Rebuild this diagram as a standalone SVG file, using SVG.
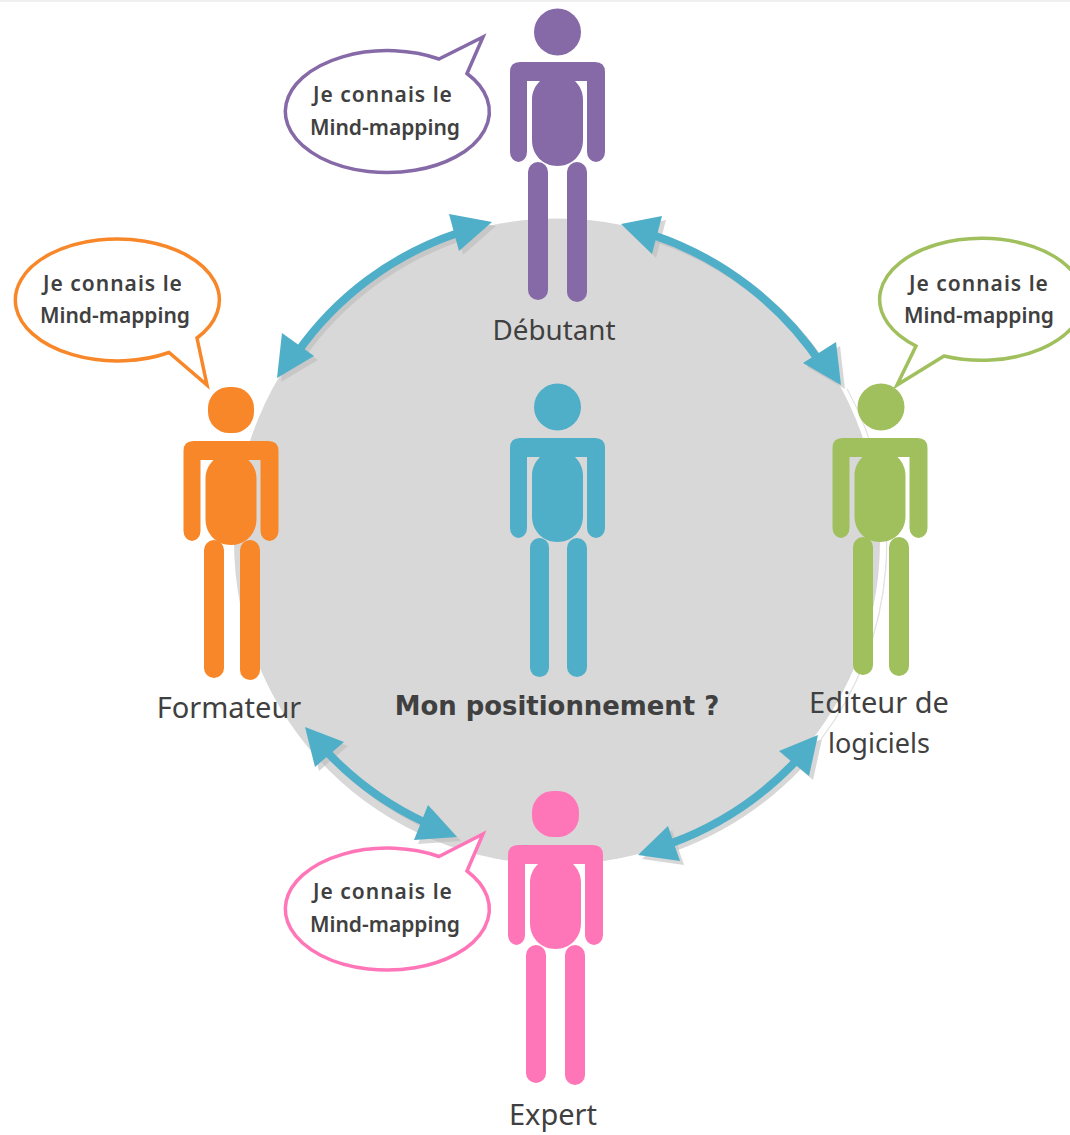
<svg xmlns="http://www.w3.org/2000/svg" width="1070" height="1135" viewBox="0 0 1070 1135">
<style>
.lbl{font-family:"Noto Sans","Open Sans",sans-serif;font-size:29px;fill:#404040;text-anchor:middle}
.say{font-family:"Noto Sans","Open Sans",sans-serif;font-size:21px;font-weight:600;fill:#404040;text-anchor:middle}
.sp{letter-spacing:1px}
.title{font-family:"DejaVu Sans",sans-serif;font-size:25.900px;font-weight:700;fill:#404040;text-anchor:middle}
.bub{fill:#fff;stroke-width:3.500;stroke-linejoin:miter}
.stem{fill:none;stroke:#4FAEC8;stroke-width:8}
.stem-s{fill:none;stroke:#bdbdbd;stroke-width:7;opacity:.6}
.head{fill:#4FAEC8}
.head-s{fill:#bdbdbd;opacity:.6}
.purple{fill:#8669A7}.blue{fill:#4FAEC8}.orange{fill:#F88729}.green{fill:#A0BF5D}.pink{fill:#FF76B8}
</style>
<defs>
<path id="upper" d="M520,62H595Q605,62 605,72V152A9,10 0 0 1 587,152V81H575C580,86 583,92 583,100V140C583,155 572,166 557.500,166C543,166 532,155 532,140V100C532,92 535,86 540,81H527V152A8.500,10 0 0 1 510,152V72Q510,62 520,62Z"/>
</defs>
<rect width="1070" height="2" fill="#efefef"/>
<g id="background">
<circle cx="557" cy="541.500" r="323" fill="#d8d8d8"/>
<path d="M843,387A323,323 0 0 1 817,737" fill="none" stroke="#e2e2e2" stroke-width="1.500" transform="translate(4,2)"/>
<path d="M842,387A323,323 0 0 1 817,737" fill="none" stroke="#fff" stroke-width="3.500" transform="translate(2,1)"/>
<path d="M640,856C620,860 612,862 603,863" fill="none" stroke="#fff" stroke-width="3"/>
</g>
<g id="connectors">
<g transform="translate(4,4)">
<path class="stem-s" d="M297,353A320,320 0 0 1 458,233"/>
<path class="head-s" d="M492,222L449,214L459,251Z"/>
<path class="head-s" d="M277,378L282,333L314,356Z"/>
<path class="stem-s" d="M653,235A330,330 0 0 1 822,365"/>
<path class="head-s" d="M621,224L662,216L652,254Z"/>
<path class="head-s" d="M841,385L836,342L803,363Z"/>
<path class="stem-s" d="M328,753A320,320 0 0 0 424,822"/>
<path class="head-s" d="M305,727L344,742L315,767Z"/>
<path class="head-s" d="M457,837L428,805L414,840Z"/>
<path class="stem-s" d="M795,762A330,330 0 0 1 672,843"/>
<path class="head-s" d="M818,735L779,751L809,776Z"/>
<path class="head-s" d="M638,855L668,826L680,861Z"/>
</g>
<path class="stem" d="M297,353A320,320 0 0 1 458,233"/>
<path class="head" d="M492,222L449,214L459,251Z"/>
<path class="head" d="M277,378L282,333L314,356Z"/>
<path class="stem" d="M653,235A330,330 0 0 1 822,365"/>
<path class="head" d="M621,224L662,216L652,254Z"/>
<path class="head" d="M841,385L836,342L803,363Z"/>
<path class="stem" d="M328,753A320,320 0 0 0 424,822"/>
<path class="head" d="M305,727L344,742L315,767Z"/>
<path class="head" d="M457,837L428,805L414,840Z"/>
<path class="stem" d="M795,762A330,330 0 0 1 672,843"/>
<path class="head" d="M818,735L779,751L809,776Z"/>
<path class="head" d="M638,855L668,826L680,861Z"/>
</g>
<g id="debutant" class="purple">
<circle cx="557.500" cy="32" r="23.500"/>
<use href="#upper"/>
<rect x="528" y="162" width="20" height="138" rx="10"/>
<rect x="567" y="162" width="20" height="140" rx="10"/>
<path class="bub" stroke="#8669A7" d="M439,59L483,37L467,73.500A102,61 0 1 1 439,59Z"/>
<text class="say sp" x="383" y="102">Je connais le</text>
<text class="say" x="385" y="135">Mind-mapping</text>
<text class="lbl" x="554" y="340" style="font-size:27.800px">Débutant</text>
</g>
<g id="centre" class="blue">
<circle cx="557.500" cy="407" r="23.500"/>
<use href="#upper" y="376"/>
<rect x="530" y="538" width="19" height="139" rx="9.500"/>
<rect x="567" y="538" width="20" height="139" rx="10"/>
<text class="title" x="557" y="715">Mon positionnement ?</text>
</g>
<g id="formateur" class="orange">
<rect x="208" y="387" width="46" height="46" rx="21"/>
<use href="#upper" x="-326.500" y="379"/>
<rect x="204" y="540" width="20" height="138" rx="10"/>
<rect x="240" y="540" width="20" height="140" rx="10"/>
<path class="bub" stroke="#F88729" d="M197,338L207,385L169,352.500A102,61 0 1 1 197,338Z"/>
<text class="say sp" x="113" y="291">Je connais le</text>
<text class="say" x="115" y="323">Mind-mapping</text>
<text class="lbl" x="229" y="718">Formateur</text>
</g>
<g id="editeur" class="green">
<circle cx="881" cy="407" r="23.500"/>
<use href="#upper" x="322.500" y="376"/>
<rect x="853" y="537" width="20" height="138" rx="10"/>
<rect x="889" y="537" width="20" height="139" rx="10"/>
<path class="bub" stroke="#A0BF5D" d="M944,356L897,385L916,346A102,61 0 1 1 944,356Z"/>
<text class="say sp" x="979" y="291">Je connais le</text>
<text class="say" x="979" y="323">Mind-mapping</text>
<text class="lbl" x="879" y="713">Editeur de</text>
<text class="lbl" x="879" y="753" style="font-size:27px">logiciels</text>
</g>
<g id="expert" class="pink">
<rect x="532" y="791" width="47" height="46" rx="21"/>
<use href="#upper" x="-2" y="783"/>
<rect x="526" y="945" width="20" height="138" rx="10"/>
<rect x="565" y="945" width="20" height="140" rx="10"/>
<path class="bub" stroke="#FF76B8" d="M439,856.500L483,834L467,871A102,61 0 1 1 439,856.500Z"/>
<text class="say sp" x="383" y="899">Je connais le</text>
<text class="say" x="385" y="932">Mind-mapping</text>
<text class="lbl" x="553" y="1125">Expert</text>
</g>
</svg>
